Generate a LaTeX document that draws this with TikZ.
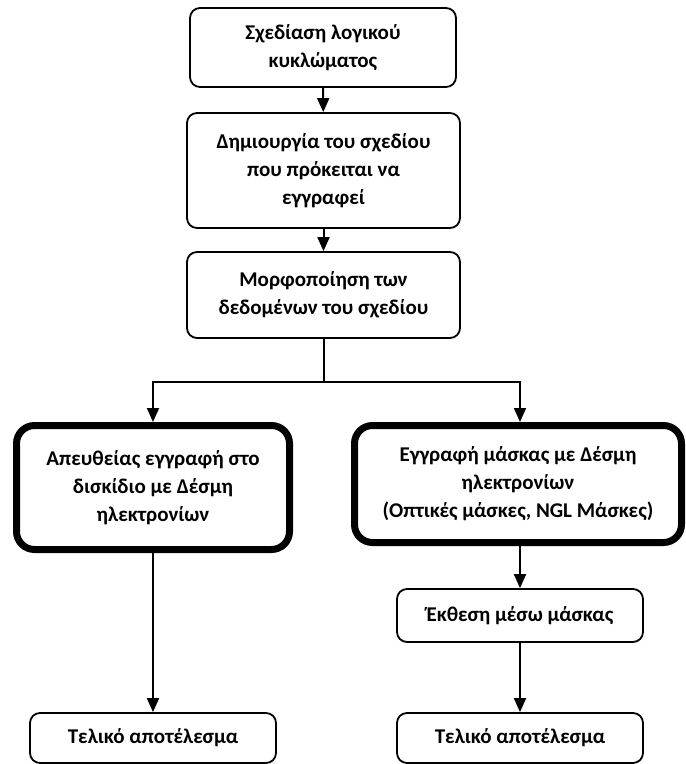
\documentclass[tikz,border=0pt]{standalone}
\usepackage{fontspec}
\setmainfont{Carlito}
\usetikzlibrary{arrows.meta,calc}
\begin{document}
\begin{tikzpicture}[x=1pt,y=-1pt,
  txt/.style={font=\fontsize{21}{28}\selectfont\bfseries,align=center,inner sep=0pt},
  thinbox/.style={txt,draw=black,line width=1.8pt,rounded corners=10pt},
  thickbox/.style={txt,draw=black,line width=7pt,rounded corners=18pt},
  conn/.style={line width=2pt,-{Triangle[length=14pt,width=12pt]}},
  plainline/.style={line width=2pt}]
\useasboundingbox (0,0) rectangle (686,764);
\node[thinbox,minimum width=266pt,minimum height=79pt] (b1) at (323,47.5) {Σχεδίαση λογικού\\κυκλώματος};
\node[thinbox,minimum width=273pt,minimum height=115pt] (b2) at (323.5,170.5) {Δημιουργία του σχεδίου\\που πρόκειται να\\εγγραφεί};
\node[thinbox,minimum width=273pt,minimum height=86pt] (b3) at (323.5,295) {Μορφοποίηση των\\δεδομένων του σχεδίου};
\node[thickbox,minimum width=273pt,minimum height=124pt] (l) at (153,487.5) {Απευθείας εγγραφή στο\\δισκίδιο με Δέσμη\\ηλεκτρονίων};
\node[thickbox,minimum width=327pt,minimum height=117pt] (r) at (518,484) {Εγγραφή μάσκας με Δέσμη\\ηλεκτρονίων\\(Οπτικές μάσκες, NGL Μάσκες)};
\node[thinbox,minimum width=246pt,minimum height=53pt] (ek) at (520,615.5) {Έκθεση μέσω μάσκας};
\node[thinbox,minimum width=246pt,minimum height=50pt] (tl) at (153,738) {Τελικό αποτέλεσμα};
\node[thinbox,minimum width=246pt,minimum height=50pt] (tr) at (520,738) {Τελικό αποτέλεσμα};
\coordinate (split) at (323.5,382);
\draw[conn] (b1) -- (b2);
\draw[conn] (b2) -- (b3);
\draw[plainline] (b3.south) -- (split);
\draw[conn] (split) -| (l.north);
\draw[conn] (split) -| (ek.north |- r.north);
\draw[conn] (r.south -| ek.north) -- (ek.north);
\draw[conn] (ek) -- (tr);
\draw[conn] (l.south -| tl.north) -- (tl.north);
\end{tikzpicture}
\end{document}
